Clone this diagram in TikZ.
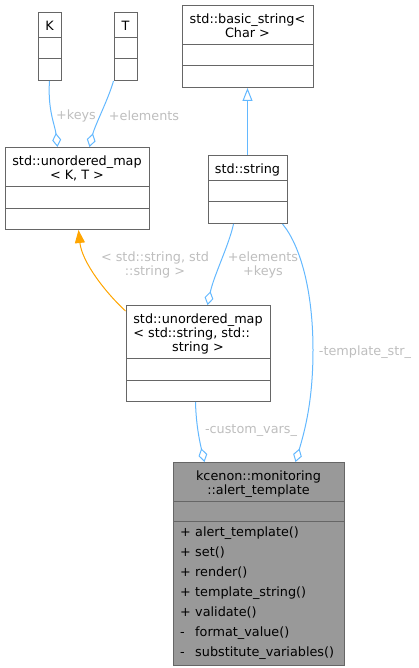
\documentclass[tikz,border=0pt]{standalone}
\usepackage{fontspec}
\setmainfont{DejaVu Sans}
\usetikzlibrary{shapes,arrows.meta}
\definecolor{edgeblue}{HTML}{63B8FF}
\definecolor{inhorange}{HTML}{FFA500}
\definecolor{boxgray}{HTML}{666666}
\definecolor{nodefill}{HTML}{999999}
\definecolor{labelgray}{HTML}{BEBEBE}
\tikzstyle{aggr} = [draw=edgeblue, line width=1pt, -{Diamond[open, length=14pt, width=9pt, line width=1pt]}]
\tikzstyle{inherit} = [draw=edgeblue, line width=1pt, -{Triangle[open, fill=white, length=13pt, width=10pt, line width=1pt]}]
\tikzstyle{tmpl} = [draw=inhorange, line width=1pt, -{Triangle[length=13pt, width=10pt]}]
\newcommand{\tstr}{\rule{0pt}{17.5pt}}
\newcommand{\bstr}{\rule[-6.5pt]{0pt}{6.5pt}}
\newcommand{\erow}{\rule{0pt}{20.5pt}}
\begin{document}
\begin{tikzpicture}[x=1pt, y=-1pt, font=\fontsize{12.8}{14}\selectfont,
  classbox/.style={rectangle split, rectangle split parts=3, draw=boxgray, line width=1pt, fill=white, inner ysep=0pt, inner xsep=4pt, align=center, anchor=north},
  edgelabel/.style={text=labelgray, align=center, inner sep=0pt}]

    \useasboundingbox (0,0) rectangle (419,668);

    \node[classbox, minimum width=23pt] (K) at (49.5,12) {\tstr K\bstr \nodepart{two}\erow \nodepart{three}\erow};
    \node[classbox, minimum width=23pt] (T) at (125.5,12) {\tstr T\bstr \nodepart{two}\erow \nodepart{three}\erow};
    \node[classbox, minimum width=144pt] (umKT) at (77,147) {\tstr std::unordered\_map\\< K, T >\bstr \nodepart{two}\erow \nodepart{three}\erow};
    \node[classbox, minimum width=131pt] (bstr) at (247.5,5) {\tstr std::basic\_string<\\Char >\bstr \nodepart{two}\erow \nodepart{three}\erow};
    \node[classbox, minimum width=79pt] (str) at (247.5,155) {\tstr std::string\bstr \nodepart{two}\erow \nodepart{three}\erow};
    \node[classbox, minimum width=144pt] (um2) at (198,305) {\begin{tabular}{@{}l@{}}\tstr std::unordered\_map\\ < std::string, std::\\ \multicolumn{1}{@{}c@{}}{string >\bstr}\end{tabular} \nodepart{two}\erow \nodepart{three}\erow};
    \node[classbox, fill=nodefill, minimum width=171pt, inner xsep=7pt, rectangle split part align={center,center,left}] (alert) at (258.5,462) {\tstr kcenon::monitoring\\::alert\_template\bstr \nodepart{two}\rule{0pt}{19pt} \nodepart{three}\def\arraystretch{1.43}\begin{tabular}{@{}l@{\hspace{4.5pt}}l@{}}
      + & alert\_template()\\
      + & set()\\
      + & render()\\
      + & template\_string()\\
      + & validate()\\
      - & format\_value()\\
      - & substitute\_variables()\rule[-9pt]{0pt}{0pt}
    \end{tabular}};

    \draw[aggr] (K.south) .. controls (47.5,110) and (55,125) .. ([xshift=53pt]umKT.north west);
    \draw[aggr] (T.south west) .. controls (108,100) and (95,125) .. ([xshift=85pt]umKT.north west);
    \draw[inherit] (str.north) -- (bstr.south);
    \draw[tmpl] ([yshift=-6pt]um2.north west) .. controls (105,292) and (82,262) .. ([xshift=74pt]umKT.south west);
    \draw[aggr] ([xshift=26pt]str.south west) .. controls (229,245) and (214,275) .. ([xshift=82pt]um2.north west);
    \draw[aggr] ([xshift=-5pt]str.south east) .. controls (300,245) and (313,290) .. (313,350) .. controls (313,400) and (305,430) .. ([xshift=123pt]alert.north west);
    \draw[aggr] ([xshift=70pt]um2.south west) .. controls (196,425) and (200,443) .. ([xshift=32pt]alert.north west);

    \node[edgelabel] (lkeys) at (76,116) {+keys};
    \node[edgelabel] (lelem) at (144,116) {+elements};
    \node[edgelabel] (lstrstr) at (155,265) {< std::string, std\\::string >};
    \node[edgelabel] (lelemkeys) at (263,265) {+elements\\+keys};
    \node[edgelabel] (ltmpl) at (365,352) {-template\_str\_};
    \node[edgelabel] (lcustom) at (251,431) {-custom\_vars\_};

\end{tikzpicture}
\end{document}
